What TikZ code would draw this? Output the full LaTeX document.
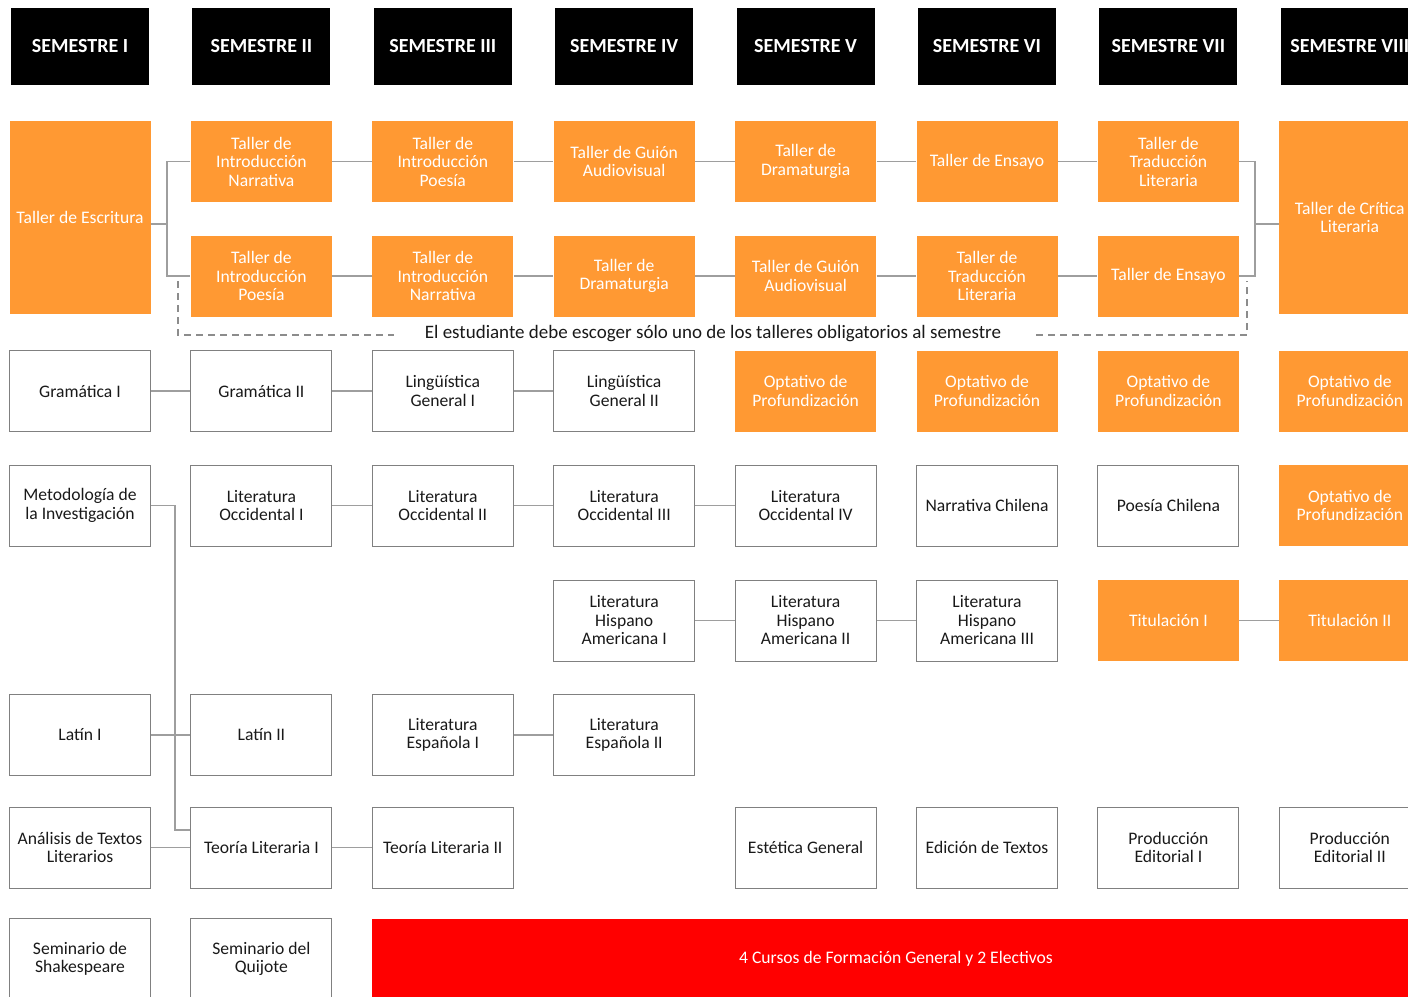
\documentclass[tikz,border=0pt]{standalone}
\usepackage{fontspec}
\setmainfont{Carlito}
\usetikzlibrary{calc}
\definecolor{naranja}{RGB}{255,153,51}
\definecolor{rojo}{RGB}{255,0,0}
\tikzset{
	curso/.style={draw=black!50, line width=1pt, minimum width=141pt, minimum height=81pt, inner sep=0pt, align=center, text=black!90, font=\fontsize{17.6}{18.5}\selectfont},
	taller/.style={curso, draw=none, fill=naranja, text=white},
	semestre/.style={fill=black, minimum width=138pt, minimum height=77pt, inner sep=0pt, text=white, font=\bfseries\fontsize{20}{21}\selectfont},
	enlace/.style={draw=black!38, line width=1.5pt},
	aviso/.style={draw=black!45, line width=1.2pt, dash pattern=on 7pt off 5pt},
}

\begin{document}
\begin{tikzpicture}[x=1pt, y=-1pt]
		%%%%% START %%%%%
		\useasboundingbox (0, 0) rectangle (1408, 996);
		\clip (0, 0) rectangle (1408, 996);
		
		% semestres
		\node[semestre] (s1) at (80, 46.5) {SEMESTRE I};
		\node[semestre] (s2) at (261.4, 46.5) {SEMESTRE II};
		\node[semestre] (s3) at (442.8, 46.5) {SEMESTRE III};
		\node[semestre] (s4) at (624.2, 46.5) {SEMESTRE IV};
		\node[semestre] (s5) at (805.6, 46.5) {SEMESTRE V};
		\node[semestre] (s6) at (987, 46.5) {SEMESTRE VI};
		\node[semestre] (s7) at (1168.4, 46.5) {SEMESTRE VII};
		\node[semestre] (s8) at (1349.8, 46.5) {SEMESTRE VIII};
		
		% talleres
		\node[taller, minimum height=193pt] (esc) at (80, 217.5) {Taller de Escritura};
		\node[taller] (ta2) at (261.4, 161.5) {Taller de\\Introducción\\Narrativa};
		\node[taller] (ta3) at (442.8, 161.5) {Taller de\\Introducción\\Poesía};
		\node[taller] (ta4) at (624.2, 161.5) {Taller de Guión\\Audiovisual};
		\node[taller] (ta5) at (805.6, 161.5) {Taller de\\Dramaturgia};
		\node[taller] (ta6) at (987, 161.5) {Taller de Ensayo};
		\node[taller] (ta7) at (1168.4, 161.5) {Taller de\\Traducción\\Literaria};
		\node[taller] (tb2) at (261.4, 276) {Taller de\\Introducción\\Poesía};
		\node[taller] (tb3) at (442.8, 276) {Taller de\\Introducción\\Narrativa};
		\node[taller] (tb4) at (624.2, 276) {Taller de\\Dramaturgia};
		\node[taller] (tb5) at (805.6, 276) {Taller de Guión\\Audiovisual};
		\node[taller] (tb6) at (987, 276) {Taller de\\Traducción\\Literaria};
		\node[taller] (tb7) at (1168.4, 276) {Taller de Ensayo};
		\node[taller, minimum height=193pt] (crit) at (1349.8, 217.5) {Taller de Crítica\\Literaria};
		
		\coordinate (bi) at (167, 224);
		\coordinate (bd) at (1255, 224);
		\draw[enlace] (bi -| esc.east) -- (bi);
		\draw[enlace] (ta2.west) -| (bi) |- (tb2.west);
		\draw[enlace] (ta7.east) -| (bd) |- (tb7.east);
		\draw[enlace] (bd) -- (bd -| crit.west);
		\draw[enlace] (ta2) -- (ta3) -- (ta4) -- (ta5) -- (ta6) -- (ta7);
		\draw[enlace] (tb2) -- (tb3) -- (tb4) -- (tb5) -- (tb6) -- (tb7);
		
		\coordinate (ai) at (178, 281);
		\coordinate (ad) at (1247, 281);
		\draw[aviso] (ai) -- ++(0, 54) -| (ad);
		\node[fill=white, inner xsep=31pt, inner ysep=1pt, text=black!90, font=\fontsize{19}{20}\selectfont] (nota) at (713, 334) {El estudiante debe escoger sólo uno de los talleres obligatorios al semestre};
		
		% fila 1
		\node[curso] (gra1) at (80, 391) {Gramática I};
		\node[curso] (gra2) at (261.4, 391) {Gramática II};
		\node[curso] (lin1) at (442.8, 391) {Lingüística\\General I};
		\node[curso] (lin2) at (624.2, 391) {Lingüística\\General II};
		\node[taller] (opt5) at (805.6, 391) {Optativo de\\Profundización};
		\node[taller] (opt6) at (987, 391) {Optativo de\\Profundización};
		\node[taller] (opt7) at (1168.4, 391) {Optativo de\\Profundización};
		\node[taller] (opt8) at (1349.8, 391) {Optativo de\\Profundización};
		\draw[enlace] (gra1) -- (gra2) -- (lin1) -- (lin2);
		
		% fila 2
		\node[curso] (met) at (80, 505.5) {Metodología de\\la Investigación};
		\node[curso] (occ1) at (261.4, 505.5) {Literatura\\Occidental I};
		\node[curso] (occ2) at (442.8, 505.5) {Literatura\\Occidental II};
		\node[curso] (occ3) at (624.2, 505.5) {Literatura\\Occidental III};
		\node[curso] (occ4) at (805.6, 505.5) {Literatura\\Occidental IV};
		\node[curso] (nar) at (987, 505.5) {Narrativa Chilena};
		\node[curso] (poe) at (1168.4, 505.5) {Poesía Chilena};
		\node[taller] (opt9) at (1349.8, 505.5) {Optativo de\\Profundización};
		\draw[enlace] (occ1) -- (occ2) -- (occ3) -- (occ4);
		
		% fila 3
		\node[curso] (his1) at (624.2, 620.5) {Literatura\\Hispano\\Americana I};
		\node[curso] (his2) at (805.6, 620.5) {Literatura\\Hispano\\Americana II};
		\node[curso] (his3) at (987, 620.5) {Literatura\\Hispano\\Americana III};
		\node[taller] (tit1) at (1168.4, 620.5) {Titulación I};
		\node[taller] (tit2) at (1349.8, 620.5) {Titulación II};
		\draw[enlace] (his1) -- (his2) -- (his3);
		\draw[enlace] (tit1) -- (tit2);
		
		% fila 4
		\node[curso] (lat1) at (80, 735) {Latín I};
		\node[curso] (lat2) at (261.4, 735) {Latín II};
		\node[curso] (esp1) at (442.8, 735) {Literatura\\Española I};
		\node[curso] (esp2) at (624.2, 735) {Literatura\\Española II};
		\draw[enlace] (lat1) -- (lat2);
		\draw[enlace] (esp1) -- (esp2);
		
		% fila 5
		\node[curso] (ana) at (80, 847.5) {Análisis de Textos\\Literarios};
		\node[curso] (teo1) at (261.4, 847.5) {Teoría Literaria I};
		\node[curso] (teo2) at (442.8, 847.5) {Teoría Literaria II};
		\node[curso] (est) at (805.6, 847.5) {Estética General};
		\node[curso] (edi) at (987, 847.5) {Edición de Textos};
		\node[curso] (pro1) at (1168.4, 847.5) {Producción\\Editorial I};
		\node[curso] (pro2) at (1349.8, 847.5) {Producción\\Editorial II};
		\draw[enlace] (ana) -- (teo1) -- (teo2);
		
		\coordinate (mv) at (175, 830);
		\draw[enlace] (met.east) -| (mv) -- (mv -| teo1.west);
		
		% fila 6
		\node[curso] (sha) at (80, 959) {Seminario de\\Shakespeare};
		\node[curso] (qui) at (261.4, 959) {Seminario del\\Quijote};
		\node[curso, draw=none, fill=rojo, text=white, minimum width=1048pt] (gen) at (896, 959) {4 Cursos de Formación General y 2 Electivos};
		
		%%%%% END %%%%%
	\end{tikzpicture}
\end{document}
